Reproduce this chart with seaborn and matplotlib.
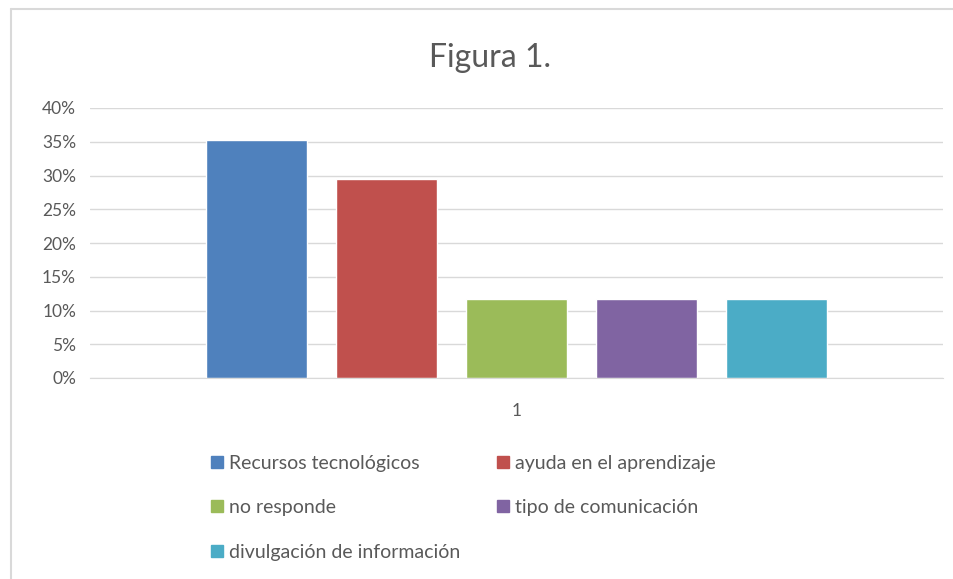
import pandas as pd
import seaborn as sns
import matplotlib.pyplot as plt
from matplotlib.lines import Line2D
from matplotlib.ticker import PercentFormatter

categorias = ['Recursos tecnológicos', 'ayuda en el aprendizaje', 'no responde',
              'tipo de comunicación', 'divulgación de información']
porcentajes = [35.29, 29.41, 11.76, 11.76, 11.76]
grupo = ['1'] * 5
colores = ['#4F81BD', '#C0504D', '#9BBB59', '#8064A2', '#4BACC6']

df = pd.DataFrame({'grupo': grupo, 'categoria': categorias, 'valor': porcentajes})

sns.set_style('white')
plt.rcParams['font.family'] = ['Lato', 'DejaVu Sans']
gris = '#595959'

fig = plt.figure(figsize=(9.54, 5.79), dpi=100)
ax = fig.add_axes([90 / 954, 1 - 378 / 579, 853 / 954, 270 / 579])

sns.barplot(data=df, x='grupo', y='valor', hue='categoria', hue_order=categorias,
            palette=colores, width=0.762, gap=0.22, saturation=1, ax=ax, legend=False)

ax.set_ylim(0, 40)
ax.set_xlim(-0.5, 0.5)
ax.set_yticks(range(0, 41, 5))
ax.yaxis.set_major_formatter(PercentFormatter(decimals=0))
ax.grid(axis='y', color='#D9D9D9', linewidth=1)
ax.set_axisbelow(True)
for s in ax.spines.values():
    s.set_visible(False)
ax.spines['bottom'].set_visible(True)
ax.spines['bottom'].set_color('#D9D9D9')
ax.tick_params(axis='both', length=0, labelsize=12.5, colors=gris, pad=10)
ax.tick_params(axis='x', pad=18)
ax.set_xlabel('')
ax.set_ylabel('')

fig.text(490 / 954, 1 - 58 / 579, 'Figura 1.', ha='center', va='center',
         fontsize=23, color=gris)

# orden por filas (matplotlib llena por columnas)
orden = [0, 2, 4, 1, 3]
handles = [Line2D([], [], marker='s', linestyle='none', markersize=9,
                  markerfacecolor=colores[i], markeredgecolor=colores[i]) for i in orden]
etiquetas = [categorias[i] for i in orden]
fig.legend(handles, etiquetas, loc='upper left', bbox_to_anchor=(190 / 954, 1 - 437 / 579),
           ncol=2, frameon=False, fontsize=14, labelcolor=gris, handletextpad=0.1,
           columnspacing=1.7, labelspacing=1.42, handlelength=1.0)

# marco del grafico
fig.add_artist(Line2D([11 / 954, 11 / 954], [0, 1 - 9 / 579], color='#D9D9D9', lw=1.5))
fig.add_artist(Line2D([11 / 954, 1], [1 - 9 / 579, 1 - 9 / 579], color='#D9D9D9', lw=1.5))

fig.savefig('out.png', dpi=100)
